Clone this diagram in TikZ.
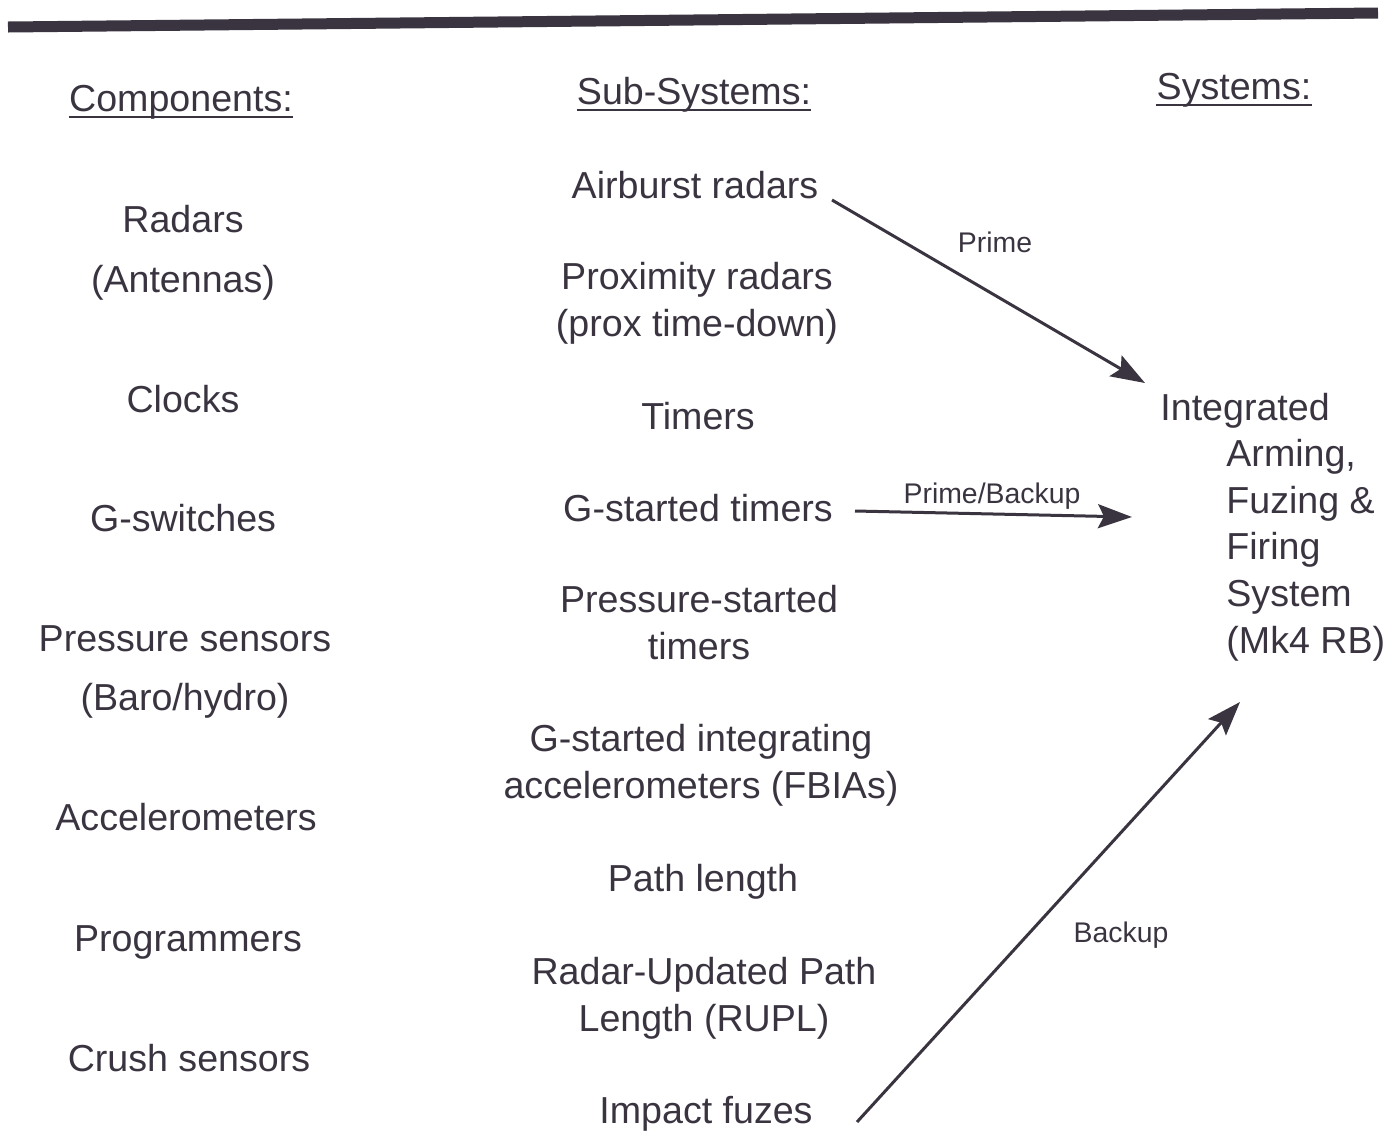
\documentclass[tikz,border=0pt]{standalone}
\usepackage{fontspec}
\setmainfont{Liberation Sans}
\usetikzlibrary{arrows.meta,calc}
\definecolor{ink}{RGB}{58,52,64}
\begin{document}
\begin{tikzpicture}[x=0.5pt,y=-0.5pt,
  txt/.style={font=\fontsize{18.8}{23.3}\selectfont, text=ink, inner sep=0pt, anchor=base, align=center},
  lbl/.style={font=\fontsize{14.2}{17}\selectfont, text=ink, inner sep=0pt, anchor=base},
  arr/.style={draw=ink, line width=1.5pt, -{Stealth[length=17pt,width=12pt,inset=3pt]}},
  uline/.style={draw=ink, line width=1.2pt}]
\useasboundingbox (0,0) rectangle (1393,1131);
% top rule
\draw[ink, line width=5.5pt] (8,27) -- (1378,13);
% headings
\node[txt] (hc) at (181,111) {Components:};
\node[txt] (hs) at (694,104) {Sub-Systems:};
\node[txt] (hy) at (1234,99) {Systems:};
\foreach \h in {hc,hs,hy}{
  \draw[uline] ($(\h.base west)+(0,6)$) -- ($(\h.base east)+(0,6)$);
}
% components (base = baseline of last line)
\node[txt] (c1) at (183,292) {Radars\\[6.7pt](Antennas)};
\node[txt] (c2) at (183,412) {Clocks};
\node[txt] (c3) at (183,531) {G-switches};
\node[txt] (c4) at (185,710) {Pressure sensors\\[6pt](Baro/hydro)};
\node[txt] (c5) at (186,830) {Accelerometers};
\node[txt] (c6) at (188,951) {Programmers};
\node[txt] (c7) at (189,1071) {Crush sensors};
% sub-systems
\node[txt] (s1) at (695,198) {Airburst radars};
\node[txt] (s2) at (697,336) {Proximity radars\\(prox time-down)};
\node[txt] (s3) at (698,429) {Timers};
\node[txt] (s4) at (698,521) {G-started timers};
\node[txt] (s5) at (699,659) {Pressure-started\\timers};
\node[txt] (s6) at (701,798) {G-started integrating\\accelerometers (FBIAs)};
\node[txt] (s7) at (703,891) {Path length};
\node[txt] (s8) at (704,1031) {Radar-Updated Path\\Length (RUPL)};
\node[txt] (s9) at (706,1123) {Impact fuzes};
% system
\node[txt, anchor=base west, align=left] (sys) at (1160,653)
  {Integrated\\\hspace*{33pt}Arming,\\\hspace*{33pt}Fuzing \&\\\hspace*{33pt}Firing\\\hspace*{33pt}System\\\hspace*{33pt}(Mk4 RB)};
% arrow ends
\coordinate (a1s) at (832,200);
\coordinate (a1e) at (1145,383);
\coordinate (a2s) at (855,511);
\coordinate (a2e) at (1132,517);
\coordinate (a3s) at (857,1122);
\coordinate (a3e) at (1240,702);
\draw[arr] (a1s) -- (a1e);
\draw[arr] (a2s) -- (a2e);
\draw[arr] (a3s) -- (a3e);
\node[lbl] (l1) at (995,252) {Prime};
\node[lbl] (l2) at (992,503) {Prime/Backup};
\node[lbl] (l3) at (1121,942) {Backup};
\end{tikzpicture}
\end{document}
